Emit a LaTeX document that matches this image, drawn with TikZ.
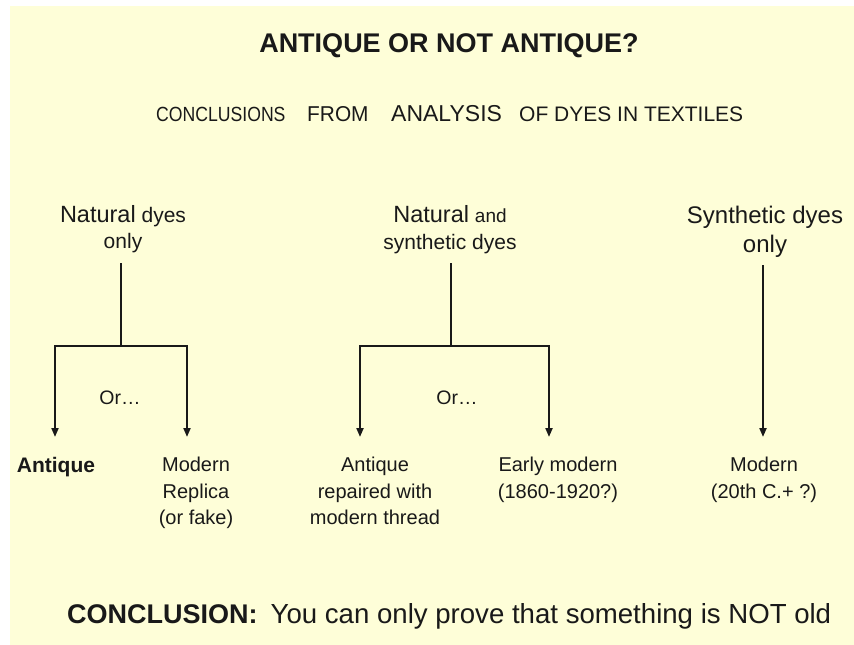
\documentclass[tikz,border=0pt]{standalone}
\usepackage{fontspec}
\setmainfont{Liberation Sans}
\usetikzlibrary{arrows.meta}
\definecolor{bg}{RGB}{254,254,216}
\definecolor{ink}{RGB}{25,25,25}
\newcommand{\fsz}[2]{\fontsize{#1}{#2}\selectfont}
\begin{document}
\begin{tikzpicture}[x=1pt,y=-1pt,
  lbl/.style={inner sep=0pt, align=center, anchor=north, text=ink},
  word/.style={anchor=base west, inner sep=0pt, text=ink},
  ln/.style={line width=2pt, draw=ink},
  arr/.style={ln, -{Triangle[length=9pt,width=7pt]}}]
\useasboundingbox (0,0) rectangle (854,645);
\fill[white] (0,0) rectangle (854,645);
\fill[bg] (10,6) rectangle (854,645);
% headings
\node[anchor=base, inner sep=0pt, text=ink, font=\bfseries\fsz{27}{32}] (title) at (449,52) {ANTIQUE OR NOT ANTIQUE?};
\node[word, font=\fsz{20.5}{24}] (sub1) at (156,121) {\scalebox{0.86}[1]{CONCLUSIONS}};
\node[word, font=\fsz{21.5}{25}] (sub2) at (307,121) {\scalebox{0.97}[1]{FROM}};
\node[word, font=\fsz{23}{27}] (sub3) at (391,121) {ANALYSIS};
\node[word, font=\fsz{21}{25}] (sub4) at (519,121) {OF DYES IN TEXTILES};
% top labels
\node[lbl, font=\fsz{21}{26}] (nat) at (123,205) {{\fsz{23.5}{26}Natural} dyes\\only};
\node[lbl, font=\fsz{21}{27}] (both) at (450,205) {{\fsz{23.5}{27}Natural} {\fsz{19}{27}and}\\synthetic dyes};
\node[lbl, font=\fsz{24}{29}] (syn) at (765,206) {Synthetic dyes\\only};
% connector points
\coordinate (s1) at (121,263); \coordinate (j1) at (121,346);
\coordinate (a1) at (55,437);  \coordinate (b1) at (187,437);
\coordinate (s2) at (451,263); \coordinate (j2) at (451,346);
\coordinate (a2) at (360,437); \coordinate (b2) at (549,437);
\coordinate (s3) at (763,265); \coordinate (c3) at (763,437);
% connectors
\draw[ln] (s1) -- (j1);
\draw[arr] (j1) -| (a1);
\draw[arr] (j1) -| (b1);
\draw[ln] (s2) -- (j2);
\draw[arr] (j2) -| (a2);
\draw[arr] (j2) -| (b2);
\draw[arr] (s3) -- (c3);
% or labels
\node[text=ink, inner sep=0pt, font=\fsz{19.5}{23}] (or1) at (120,398) {Or…};
\node[text=ink, inner sep=0pt, font=\fsz{19.5}{23}] (or2) at (457,398) {Or…};
% outcomes
\node[lbl, font=\bfseries\fsz{21}{26}] (ant) at (56,457) {Antique};
\node[lbl, font=\fsz{20}{26.5}] (rep) at (196,457) {Modern\\Replica\\(or fake)};
\node[lbl, font=\fsz{20}{26.5}] (arm) at (375,457) {Antique\\repaired with\\modern thread};
\node[lbl, font=\fsz{20}{26.5}] (early) at (558,457) {Early modern\\(1860-1920?)};
\node[lbl, font=\fsz{20}{26.5}] (mod) at (764,457) {Modern\\(20th C.+ ?)};
% conclusion
\node[word, font=\fsz{27}{32}] (concl) at (67,623)
  {\textbf{CONCLUSION:}\hspace{13pt}{\fsz{27.6}{32}You can only prove that something is NOT old}};
\end{tikzpicture}
\end{document}
